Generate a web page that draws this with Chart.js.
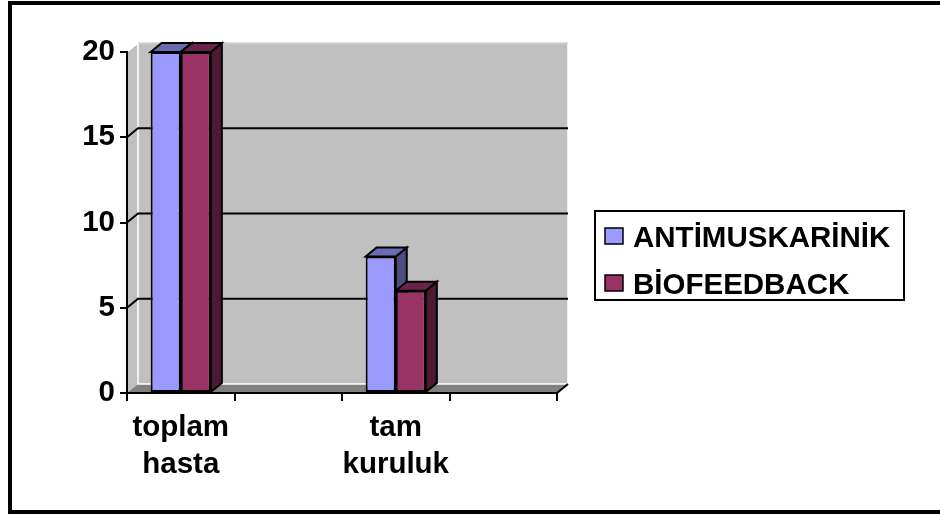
<!DOCTYPE html>
<html>
<head>
<meta charset="utf-8">
<script src="https://cdn.jsdelivr.net/npm/chart.js@4.4.0/dist/chart.umd.min.js"></script>
<style>
  html, body { margin: 0; padding: 0; background: #fff; overflow: hidden; }
  #frame {
    position: absolute; left: 8px; top: 1px;
    width: 940px; height: 505px;
    border: 4px solid #000;
  }
  #holder { position: relative; width: 928px; height: 505px; }
</style>
</head>
<body>
<div id="frame"><div id="holder"><canvas id="chart1"></canvas></div></div>
<script>
// veriler
const categories = [['toplam', 'hasta'], '', ['tam', 'kuruluk'], ''];
const antimuskarinik = [20, null, 8, null];
const biofeedback = [20, null, 6, null];
const yTicks = [0, 5, 10, 15, 20];

const FONT = '"Liberation Sans", Arial, sans-serif';
const FONT_SIZE = 29.5;
const DX = 11, DY = -9; // derinlik (3D etkisi)

// renkler: on yuz, ust yuz, yan yuz
const faceColors = [
    { front: '#9999FF', top: '#6B6BB3', side: '#4D4D80' },
    { front: '#993366', top: '#6B2447', side: '#4D1A33' }
];

// duvarlar, zemin ve arka izgara
const wallsPlugin = {
    id: 'walls',
    beforeDraw(chart) {
        const ctx = chart.ctx;
        const { left, right, top, bottom } = chart.chartArea;
        const y = chart.scales.y;
        ctx.save();
        // sol duvar
        ctx.fillStyle = '#C0C0C0';
        ctx.beginPath();
        ctx.moveTo(left, top);
        ctx.lineTo(left + DX, top + DY);
        ctx.lineTo(left + DX, bottom + DY);
        ctx.lineTo(left, bottom);
        ctx.closePath();
        ctx.fill();
        // arka duvar
        ctx.fillRect(left + DX, top + DY, right - left, bottom - top);
        // zemin
        ctx.fillStyle = '#808080';
        ctx.beginPath();
        ctx.moveTo(left, bottom);
        ctx.lineTo(right, bottom);
        ctx.lineTo(right + DX, bottom + DY);
        ctx.lineTo(left + DX, bottom + DY);
        ctx.closePath();
        ctx.fill();
        // acik kenarlar
        ctx.strokeStyle = '#FFFFFF';
        ctx.lineWidth = 1.5;
        ctx.beginPath();
        ctx.moveTo(left + DX, top + DY);
        ctx.lineTo(left + DX, bottom + DY);
        ctx.lineTo(right + DX, bottom + DY);
        ctx.moveTo(right + DX, top + DY);
        ctx.lineTo(right + DX, bottom + DY);
        ctx.moveTo(left, top);
        ctx.lineTo(left + DX, top + DY);
        ctx.stroke();
        ctx.strokeStyle = '#D4D4D4';
        ctx.beginPath();
        ctx.moveTo(left + DX, top + DY);
        ctx.lineTo(right + DX, top + DY);
        ctx.stroke();
        // izgara cizgileri
        ctx.strokeStyle = '#000';
        ctx.lineWidth = 2;
        yTicks.forEach(v => {
            if (v === 0 || v === yTicks[yTicks.length - 1]) return;
            const py = y.getPixelForValue(v);
            ctx.beginPath();
            ctx.moveTo(left, py);
            ctx.lineTo(left + DX, py + DY);
            ctx.lineTo(right + DX, py + DY);
            ctx.stroke();
        });
        // zemin sag kenar
        ctx.beginPath();
        ctx.moveTo(right, bottom);
        ctx.lineTo(right + DX, bottom + DY);
        ctx.stroke();
        ctx.restore();
    }
};

// cubuklarin ust ve yan yuzleri
const barFacesPlugin = {
    id: 'barFaces',
    beforeDatasetsDraw(chart) {
        const ctx = chart.ctx;
        ctx.save();
        ctx.lineWidth = 2;
        ctx.strokeStyle = '#000';
        ctx.lineJoin = 'miter';
        chart.data.datasets.forEach((ds, i) => {
            const meta = chart.getDatasetMeta(i);
            meta.data.forEach((bar, j) => {
                if (ds.data[j] === null || ds.data[j] === undefined) return;
                const { x, y, base, width } = bar.getProps(['x', 'y', 'base', 'width'], true);
                const l = x - width / 2, r = x + width / 2;
                // yan yuz
                ctx.fillStyle = faceColors[i].side;
                ctx.beginPath();
                ctx.moveTo(r, y);
                ctx.lineTo(r + DX, y + DY);
                ctx.lineTo(r + DX, base + DY);
                ctx.lineTo(r, base);
                ctx.closePath();
                ctx.fill();
                ctx.stroke();
                // ust yuz
                ctx.fillStyle = faceColors[i].top;
                ctx.beginPath();
                ctx.moveTo(l, y);
                ctx.lineTo(l + DX, y + DY);
                ctx.lineTo(r + DX, y + DY);
                ctx.lineTo(r, y);
                ctx.closePath();
                ctx.fill();
                ctx.stroke();
            });
        });
        ctx.restore();
    }
};

// kutulu lejant
const legendBoxPlugin = {
    id: 'legendBox',
    afterDraw(chart) {
        const ctx = chart.ctx;
        const bx = 583, by = 206, bw = 309, bh = 89;
        ctx.save();
        ctx.strokeStyle = '#000';
        ctx.lineWidth = 2;
        ctx.strokeRect(bx, by, bw, bh);
        ctx.font = 'bold ' + FONT_SIZE + 'px ' + FONT;
        ctx.textBaseline = 'alphabetic';
        ctx.textAlign = 'left';
        chart.data.datasets.forEach((ds, i) => {
            const rowY = by + 17 + i * 47;
            ctx.fillStyle = ds.backgroundColor;
            ctx.fillRect(bx + 10, rowY, 18, 16);
            ctx.lineWidth = 1.5;
            ctx.strokeRect(bx + 10, rowY, 18, 16);
            ctx.fillStyle = '#000';
            ctx.fillText(ds.label, bx + 38, rowY + 19);
        });
        ctx.restore();
    }
};

const ctx = document.getElementById('chart1').getContext('2d');
new Chart(ctx, {
    type: 'bar',
    data: {
        labels: categories,
        datasets: [{
            label: 'ANTİMUSKARİNİK',
            data: antimuskarinik,
            backgroundColor: faceColors[0].front,
            borderColor: '#000',
            borderWidth: 2,
            borderSkipped: false
        }, {
            label: 'BİOFEEDBACK',
            data: biofeedback,
            backgroundColor: faceColors[1].front,
            borderColor: '#000',
            borderWidth: 2,
            borderSkipped: false
        }]
    },
    options: {
        responsive: true,
        maintainAspectRatio: false,
        animation: false,
        categoryPercentage: 0.56,
        barPercentage: 1.0,
        layout: { padding: { left: 0, top: 47, right: 383, bottom: 0 } },
        plugins: {
            legend: { display: false },
            tooltip: { enabled: false }
        },
        scales: {
            x: {
                afterFit: (scale) => { scale.height = 117; },
                grid: { drawOnChartArea: false, color: '#000', lineWidth: 2, tickLength: 8, offset: true },
                border: { display: true, color: '#000', width: 2 },
                ticks: {
                    color: '#000',
                    padding: 8,
                    maxRotation: 0,
                    autoSkip: false,
                    font: { family: FONT, size: FONT_SIZE, weight: 'bold', lineHeight: 1.26 }
                }
            },
            y: {
                min: 0,
                max: 20,
                afterFit: (scale) => { scale.width = 115; },
                grid: { drawOnChartArea: false, color: '#000', lineWidth: 2, tickLength: 7 },
                border: { display: true, color: '#000', width: 2 },
                afterBuildTicks: (scale) => { scale.ticks = yTicks.map(v => ({ value: v })); },
                ticks: {
                    color: '#000',
                    padding: 5,
                    font: { family: FONT, size: FONT_SIZE, weight: 'bold' }
                }
            }
        }
    },
    plugins: [wallsPlugin, barFacesPlugin, legendBoxPlugin]
});
</script>
</body>
</html>
